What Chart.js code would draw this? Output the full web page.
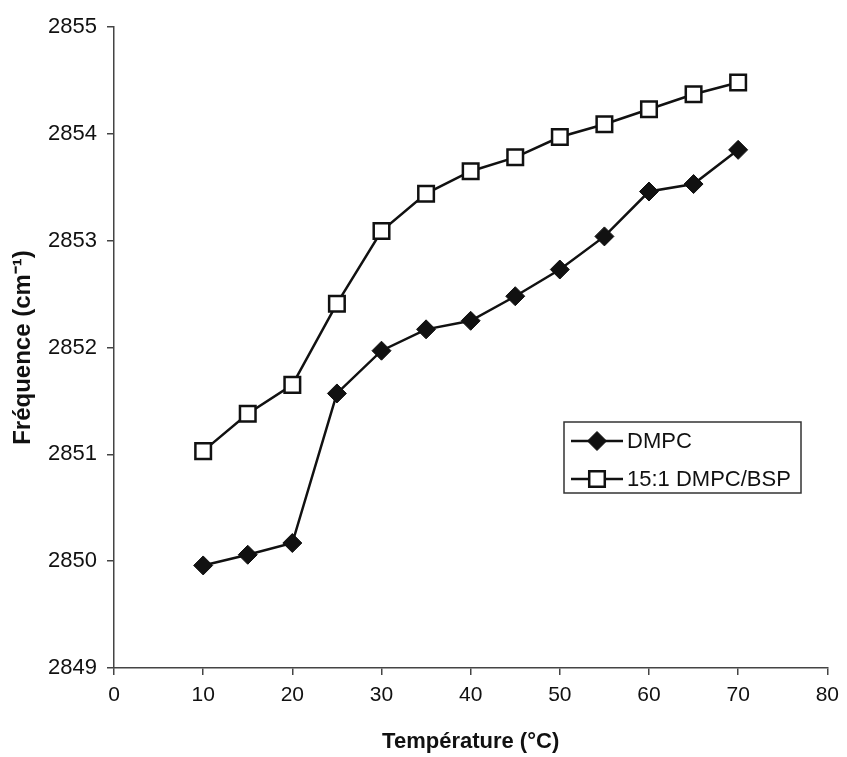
<!DOCTYPE html>
<html>
<head>
<meta charset="utf-8">
<title>Fréquence vs Température</title>
<script src="https://cdn.jsdelivr.net/npm/chart.js@4/dist/chart.umd.min.js"></script>
<style>
  html, body { margin: 0; padding: 0; background: #ffffff; }
  #wrap { width: 847px; height: 757px; }
</style>
</head>
<body>
<div id="wrap"><canvas id="chart" width="847" height="757"></canvas></div>
<script>
// Temperatures (°C)
const temperatures = [10, 15, 20, 25, 30, 35, 40, 45, 50, 55, 60, 65, 70];
// CH2 symmetric stretching frequency (cm-1)
const dmpc = [2849.96, 2850.06, 2850.17, 2851.57, 2851.97, 2852.17, 2852.25, 2852.48, 2852.73, 2853.04, 2853.46, 2853.53, 2853.85];
const dmpcBsp = [2851.03, 2851.38, 2851.65, 2852.41, 2853.09, 2853.44, 2853.65, 2853.78, 2853.97, 2854.09, 2854.23, 2854.37, 2854.48];
const seriesNames = ['DMPC', '15:1 DMPC/BSP'];

const FONT = '"Liberation Sans", Arial, Helvetica, sans-serif';
const INK = '#111111';

const toPoints = ys => temperatures.map((t, i) => ({ x: t, y: ys[i] }));

// Legend drawn inside the plot area, right-hand side
const boxLegend = {
  id: 'boxLegend',
  afterDraw(chart) {
    const ctx = chart.ctx;
    const x0 = 564, y0 = 422, w = 237, h = 71;
    ctx.save();
    ctx.fillStyle = '#ffffff';
    ctx.fillRect(x0, y0, w, h);
    ctx.strokeStyle = '#333333';
    ctx.lineWidth = 1.5;
    ctx.strokeRect(x0, y0, w, h);
    const rows = [441, 479];
    chart.data.datasets.forEach((ds, i) => {
      const y = rows[i];
      ctx.strokeStyle = ds.borderColor;
      ctx.lineWidth = ds.borderWidth;
      ctx.beginPath();
      ctx.moveTo(571, y);
      ctx.lineTo(623, y);
      ctx.stroke();
      ctx.fillStyle = ds.pointBackgroundColor;
      ctx.strokeStyle = ds.pointBorderColor;
      ctx.lineWidth = ds.pointBorderWidth;
      ctx.beginPath();
      if (ds.pointStyle === 'rect') {
        const s = Math.SQRT1_2 * ds.pointRadius;
        ctx.rect(597 - s, y - s, 2 * s, 2 * s);
      } else {
        const r = ds.pointRadius;
        ctx.moveTo(597, y - r); ctx.lineTo(597 + r, y);
        ctx.lineTo(597, y + r); ctx.lineTo(597 - r, y);
        ctx.closePath();
      }
      ctx.fill();
      ctx.stroke();
      ctx.fillStyle = INK;
      ctx.font = '22px ' + FONT;
      ctx.textAlign = 'left';
      ctx.textBaseline = 'middle';
      ctx.fillText(seriesNames[i], 627, y + 1);
    });
    ctx.restore();
  }
};

new Chart(document.getElementById('chart'), {
  type: 'line',
  data: {
    datasets: [
      {
        label: seriesNames[0],
        data: toPoints(dmpc),
        borderColor: INK,
        borderWidth: 2.5,
        pointStyle: 'rectRot',
        pointRadius: 9.5,
        pointBackgroundColor: INK,
        pointBorderColor: INK,
        pointBorderWidth: 1,
        tension: 0
      },
      {
        label: seriesNames[1],
        data: toPoints(dmpcBsp),
        borderColor: INK,
        borderWidth: 2.5,
        pointStyle: 'rect',
        pointRadius: 11,
        pointBackgroundColor: '#ffffff',
        pointBorderColor: INK,
        pointBorderWidth: 2.5,
        tension: 0
      }
    ]
  },
  plugins: [boxLegend],
  options: {
    responsive: false,
    animation: false,
    clip: false,
    layout: { padding: { top: 27, right: 12, left: 0, bottom: 0 } },
    plugins: {
      legend: { display: false },
      tooltip: { enabled: false }
    },
    scales: {
      x: {
        type: 'linear',
        min: 0,
        max: 80,
        ticks: { stepSize: 10, color: INK, padding: 8, font: { family: FONT, size: 21 } },
        grid: { display: true, drawOnChartArea: false, drawTicks: true, tickLength: 7, color: '#444444', lineWidth: 1.5 },
        border: { display: true, color: '#444444', width: 1.5 },
        title: { display: true, text: 'Température (°C)', color: INK, padding: { top: 2, bottom: 2 }, font: { family: FONT, size: 22, weight: 'bold' } },
        afterFit: s => { s.height = 89; }
      },
      y: {
        min: 2849,
        max: 2855,
        ticks: {
          stepSize: 1, color: INK, padding: 10, font: { family: FONT, size: 22 },
          callback: v => String(v)
        },
        grid: { display: true, drawOnChartArea: false, drawTicks: true, tickLength: 7, color: '#444444', lineWidth: 1.5 },
        border: { display: true, color: '#444444', width: 1.5 },
        title: { display: true, text: 'Fréquence (cm⁻¹)', color: INK, padding: { top: 9, bottom: 0 }, font: { family: FONT, size: 24, weight: 'bold' } },
        afterFit: s => { s.width = 114; }
      }
    }
  }
});
</script>
</body>
</html>
